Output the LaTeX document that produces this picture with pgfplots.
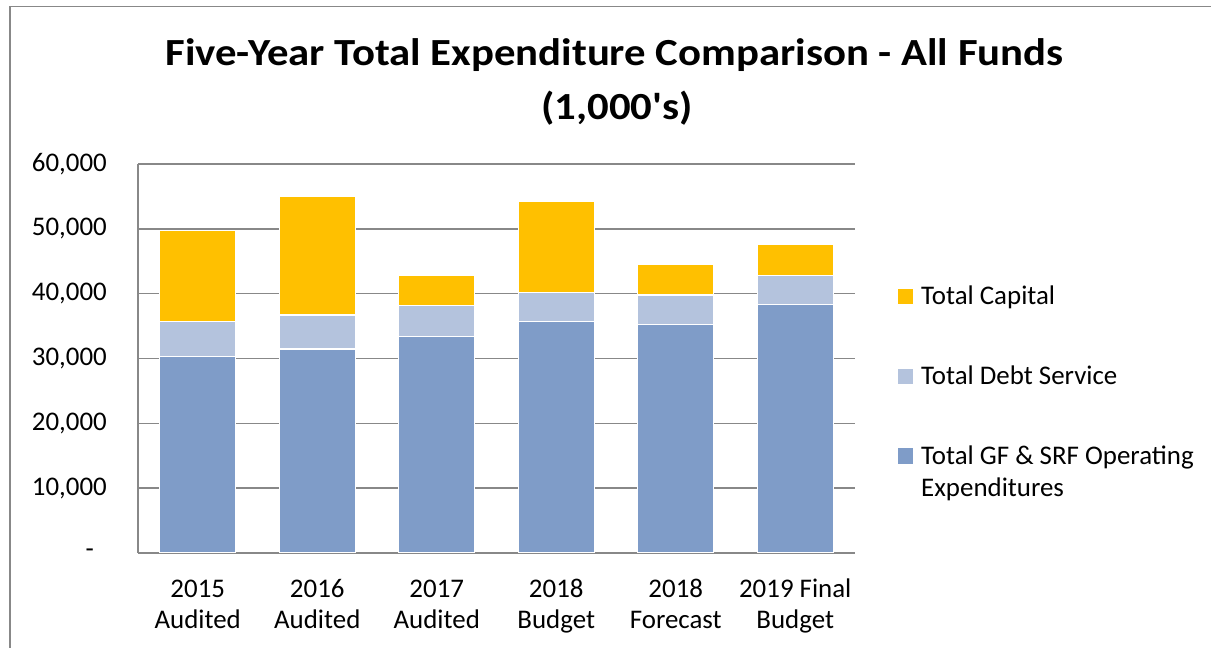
\documentclass[border=0pt]{standalone}
\usepackage{fontspec}
\setmainfont{Carlito}
\usepackage{pgfplots}
\pgfplotsset{compat=1.18}
\definecolor{capc}{HTML}{FFC000}
\definecolor{debtc}{HTML}{B4C3DD}
\definecolor{gfc}{HTML}{7F9CC8}
\definecolor{gridc}{HTML}{888888}
\newcommand{\lbl}{\fontsize{27}{32}\selectfont}
\begin{document}
\begin{tikzpicture}[x=1bp,y=1bp]
\useasboundingbox (0,0) rectangle (1211,648);
\draw[gridc, line width=1.5bp] (10,-5) -- (10,641.5) -- (1220,641.5);
\node[anchor=base, font=\fontsize{38.5}{51}\selectfont\bfseries, inner sep=0pt, xscale=1.115] at (614.5,582) {Five-Year Total Expenditure Comparison - All Funds};
\node[anchor=base, font=\fontsize{38.5}{51}\selectfont\bfseries, inner sep=0pt, xscale=1.115] at (617,528.7) {(1,000\textquotesingle s)};
\begin{axis}[
  at={(138bp,95bp)}, anchor=south west,
  scale only axis, width=717bp, height=389bp,
  ybar stacked, bar width=76bp,
  ymin=0, ymax=60000, xmin=-0.5, xmax=5.5,
  axis x line*=bottom, axis y line*=left,
  axis line style={gridc, line width=1.5bp},
  ymajorgrids, grid style={gridc, line width=1.5bp},
  major tick length=0pt,
  scaled y ticks=false,
  ytick={0,10000,20000,30000,40000,50000,60000},
  yticklabels={{-\kern13bp},{10,000},{20,000},{30,000},{40,000},{50,000},{60,000}},
  xtick={0,1,2,3,4,5},
  xticklabels={{\strut 2015\\\strut Audited},{\strut 2016\\\strut Audited},{\strut 2017\\\strut Audited},{\strut 2018\\\strut Budget},{\strut 2018\\\strut Forecast},{\strut 2019 Final\\\strut Budget}},
  tick label style={font=\lbl},
  yticklabel style={anchor=east, inner sep=0pt, xshift=-31bp},
  xticklabel style={anchor=north, align=center, inner sep=0pt, yshift=-21.6bp},
  legend style={at={(1,1)}, anchor=north west, xshift=43bp, yshift=-118.6bp,
    draw=none, fill=none, inner sep=0pt, outer sep=0pt, font=\lbl,
    row sep=48bp, column sep=8bp,
    nodes={inner sep=0pt, text depth=},
    cells={anchor=base west}},
  reverse legend,
]
\addplot[fill=gfc, draw=white, line width=1.2bp,
  legend image code/.code={\fill[gfc] (0bp,1.6bp) rectangle (14bp,15.6bp);}]
  coordinates {(0,30300) (1,31450) (2,33340) (3,35690) (4,35290) (5,38310)};
\addlegendentry{\vtop{\hbox{\strut Total GF \& SRF Operating}\hbox{\strut Expenditures}}}
\addplot[fill=debtc, draw=white, line width=1.2bp,
  legend image code/.code={\fill[debtc] (0bp,1.6bp) rectangle (14bp,15.6bp);}]
  coordinates {(0,5350) (1,5270) (2,4870) (3,4460) (4,4510) (5,4520)};
\addlegendentry{\strut Total Debt Service}
\addplot[fill=capc, draw=white, line width=1.2bp,
  legend image code/.code={\fill[capc] (0bp,1.6bp) rectangle (14bp,15.6bp);}]
  coordinates {(0,14150) (1,18260) (2,4670) (3,14060) (4,4720) (5,4710)};
\addlegendentry{\strut Total Capital}
\end{axis}
\end{tikzpicture}
\end{document}
